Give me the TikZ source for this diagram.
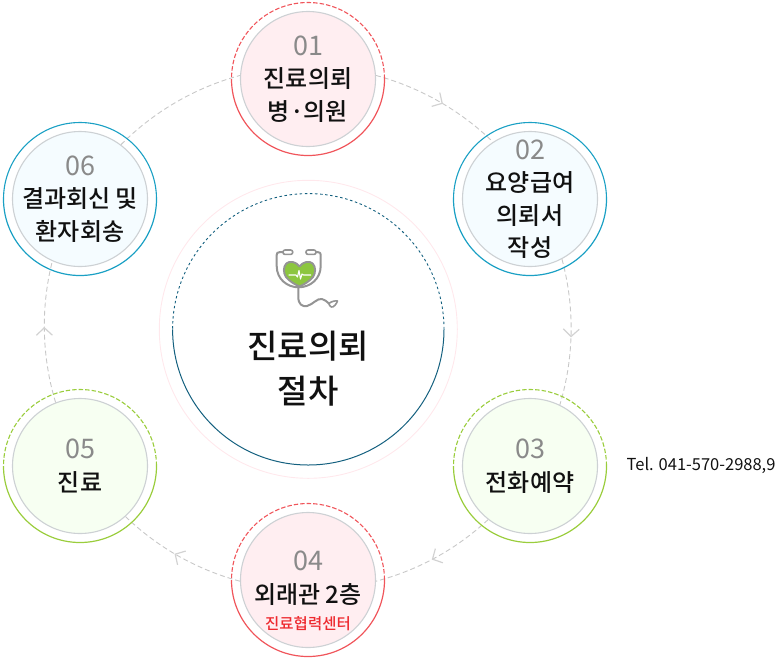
\documentclass[tikz,border=0pt]{standalone}
\usepackage{fontspec}
\setmainfont{Noto Sans CJK KR Medium}
\newfontfamily\lightnum{Noto Sans CJK KR}
\usetikzlibrary{decorations.markings}
\definecolor{pinkfill}{HTML}{FFEEF1}
\definecolor{bluefill}{HTML}{F5FCFF}
\definecolor{greenfill}{HTML}{F7FFF2}
\definecolor{redring}{HTML}{F0555B}
\definecolor{bluering}{HTML}{1AA0C4}
\definecolor{greenring}{HTML}{9ACD3C}
\definecolor{tealring}{HTML}{14607F}
\definecolor{faintring}{HTML}{FFE8EC}
\definecolor{innerline}{HTML}{CDD1D4}
\definecolor{linkgrey}{HTML}{C8C8C8}
\definecolor{chevgrey}{HTML}{D2D2D2}
\definecolor{numgrey}{HTML}{8A8A8A}
\definecolor{txtblack}{HTML}{111111}
\definecolor{redtxt}{HTML}{EE2A2F}
\definecolor{icongrey}{HTML}{949494}
\definecolor{heartgreen}{HTML}{8CC63F}
\newcommand{\numtxt}[1]{{\lightnum\fontsize{27}{32.5}\selectfont\color{numgrey}#1}}
\tikzset{
  x=1pt,y=1pt,
  stepcircle/.style={circle,draw=innerline,line width=1.1pt,minimum size=135pt,inner sep=0pt},
  steplabel/.style={align=center,inner sep=0pt,text=txtblack,font=\fontsize{24}{32.5}\selectfont},
  centerlabel/.style={align=center,inner sep=0pt,text=txtblack,font=\fontsize{33}{45}\selectfont},
  link/.style={draw=linkgrey,line width=0.9pt,dash pattern=on 5pt off 3pt,looseness=0.866},
  arrowed/.style={decoration={markings,mark=at position #1 with {\draw[solid,draw=chevgrey,line width=1.2pt] (-7.5pt,8pt)--(0pt,0pt)--(-7.5pt,-8pt);}},postaction=decorate},
  icontube/.style={draw=icongrey,line width=2pt,line cap=round,line join=round,fill=none},
}
\begin{document}
\begin{tikzpicture}
\useasboundingbox (0,0) rectangle (781,-665);

% step circles
\node[stepcircle,fill=pinkfill]  (n1) at (308,-79)  {};
\node[stepcircle,fill=bluefill]  (n2) at (530,-199) {};
\node[stepcircle,fill=greenfill] (n3) at (530,-466) {};
\node[stepcircle,fill=pinkfill]  (n4) at (308,-580) {};
\node[stepcircle,fill=greenfill] (n5) at (80,-466)  {};
\node[stepcircle,fill=bluefill]  (n6) at (80,-199)  {};

% connectors
\path[link,arrowed=.53] (n1.3.4) to[bend left=14.5] (n2.123);
\path[link,arrowed=.53] (n2.-62.5) to[bend left=16] (n3.64.5);
\path[link,arrowed=.53] (n3.232) to[bend left=14.2] (n4.-1);
\path[link,arrowed=.53] (n4.181) to[bend left=14.5] (n5.-48.5);
\path[link,arrowed=.53] (n5.111.6) to[bend left=15.5] (n6.246.7);
\path[link] (n6.53.3) to[bend left=15] (n1.177);

% outer rings: dashed above, solid below
\foreach \nd/\col/\dsh in {n1/redring/{on 4.5pt off 2pt},n2/bluering/{on 20pt off 0pt},n3/greenring/{on 4.5pt off 2pt},n4/redring/{on 4.5pt off 2pt},n5/greenring/{on 4.5pt off 2pt},n6/bluering/{on 20pt off 0pt}}{
  \draw[draw=\col,line width=1.1pt,dash pattern/.expanded=\dsh] ([xshift=76.5pt]\nd.center) arc[start angle=0,end angle=180,radius=76.5pt];
  \draw[draw=\col,line width=1.2pt] ([xshift=76.5pt]\nd.center) arc[start angle=0,end angle=-180,radius=76.5pt];
}

% centre
\node[circle,draw=faintring,line width=0.9pt,minimum size=298pt,inner sep=0pt] (c0) at (308.3,-329.3) {};
\draw[draw=tealring,line width=0.9pt,dash pattern=on 2.5pt off 2.6pt] ([xshift=135.7pt]c0.center) arc[start angle=0,end angle=180,radius=135.7pt];
\draw[draw=tealring,line width=1pt] ([xshift=135.7pt]c0.center) arc[start angle=0,end angle=-180,radius=135.7pt];

% stethoscope icon
\draw[icontube] (283,-252.2) -- (279.5,-252.2) .. controls (277.5,-252.2) and (276.7,-253) .. (276.7,-255) -- (276.7,-266) .. controls (276.7,-279) and (287,-287.3) .. (298.6,-287.3) .. controls (310,-287.3) and (320.7,-279) .. (320.7,-266) -- (320.7,-255) .. controls (320.7,-253) and (320,-252.2) .. (318,-252.2) -- (316,-252.2);
\draw[icontube,rounded corners=2pt,line width=1.6pt] (283,-250) rectangle (292.7,-254.4);
\draw[icontube,rounded corners=2pt,line width=1.6pt] (306,-250) rectangle (316,-254.4);
\draw[icontube] (298.3,-287.3) -- (298.3,-297) .. controls (298.3,-304) and (302,-307) .. (307,-306) .. controls (313,-304.5) and (317,-298) .. (322,-299) .. controls (325,-299.5) and (327,-302) .. (329.5,-304);
\draw[icontube,fill=white,line width=1.6pt] (329,-303.5) .. controls (331,-301.5) and (335,-300.5) .. (337.5,-301) .. controls (337,-303) and (333.5,-308) .. (331.5,-307) .. controls (330,-306.5) and (329,-305) .. (329,-303.5) -- cycle;
\draw[draw=icongrey,line width=1.9pt,fill=heartgreen,line join=round] (299.5,-266.5) .. controls (296,-261.5) and (289.5,-260.5) .. (286.3,-263.5) .. controls (283,-267) and (283.3,-273) .. (286,-277) .. controls (289,-281) and (295,-284.5) .. (299.5,-286.5) .. controls (304,-284.5) and (310,-281) .. (313,-277) .. controls (315.7,-273) and (316,-267) .. (312.7,-263.5) .. controls (309.5,-260.5) and (303,-261.5) .. (299.5,-266.5) -- cycle;
\draw[draw=white,line width=1.1pt,line join=round] (288.5,-275) -- (296,-275) -- (297.5,-277) -- (299,-270.5) -- (300.5,-279) -- (302,-274) -- (303.5,-275) -- (311,-275);

% labels
\node[centerlabel] (c0t) at (308.3,-369) {진료의뢰\\절차};
\node[steplabel] (t1) at ([yshift=-0.2pt]n1) {\numtxt{01}\\진료의뢰\\병·의원};
\node[steplabel] (t2) at (n2) {\numtxt{02}\\요양급여\\의뢰서\\작성};
\node[steplabel] (t3) at (n3) {\numtxt{03}\\전화예약};
\node[steplabel] (t4) at ([yshift=-11pt]n4) {\numtxt{04}\\외래관 2층\\[-6pt]{\fontsize{15.5}{20}\selectfont\color{redtxt}진료협력센터}};
\node[steplabel] (t5) at (n5) {\numtxt{05}\\진료};
\node[steplabel] (t6) at (n6) {\numtxt{06}\\결과회신 및\\환자회송};
\node[anchor=west,inner sep=0pt,text=txtblack,font=\lightnum\fontsize{16.5}{20}\selectfont] (tel) at (626.5,-465) {Tel. 041-570-2988,9};
\end{tikzpicture}
\end{document}
